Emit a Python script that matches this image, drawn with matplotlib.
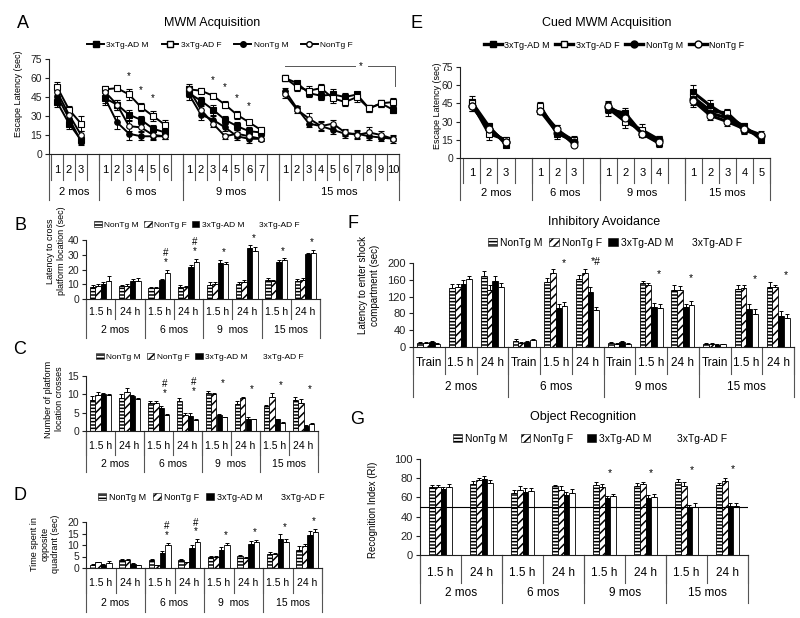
import numpy as np
import matplotlib
matplotlib.use("Agg")
import matplotlib.pyplot as plt
import matplotlib.transforms as mtransforms
from matplotlib.lines import Line2D
from matplotlib.patches import Patch

plt.rcParams["font.family"] = ["Liberation Sans", "DejaVu Sans"]
plt.rcParams["hatch.linewidth"] = 1.1

W, H = 800, 618

# ---------------- data ----------------
ages = ["2 mos", "6 mos", "9 mos", "15 mos"]
line_names = ["3xTg-AD M", "3xTg-AD F", "NonTg M", "NonTg F"]
bar_names = ["NonTg M", "NonTg F", "3xTg-AD M", "3xTg-AD F"]
delays = ["1.5 h", "24 h"]
ia_phases = ["Train", "1.5 h", "24 h"]

# A: MWM acquisition, escape latency per day
a_3xM = [[41, 24, 11], [44, 39, 31, 27, 20, 17], [48, 42, 35, 27, 22, 18, 17],
         [60, 56, 48, 46, 47, 45, 47, 36, 40, 35]]
a_3xF = [[53, 35, 24], [51, 52, 47, 37, 30, 23], [51, 50, 46, 39, 31, 25, 19],
         [60, 53, 50, 52, 44, 41, 45, 36, 40, 41]]
a_NM = [[46, 28, 10], [44, 25, 16, 14, 14, 14], [47, 31, 27, 21, 14, 12, 12],
        [50, 36, 24, 22, 19, 16, 16, 14, 13, 12]]
a_NF = [[49, 31, 15], [49, 39, 22, 21, 15, 14], [51, 35, 24, 14, 16, 14, 12],
        [47, 35, 28, 22, 24, 17, 15, 17, 15, 12]]
a_3xM_err = [[4, 4, 3], [4, 4, 4, 3, 3, 3], [3, 3, 4, 3, 3, 3, 2],
             [2, 2, 3, 3, 4, 3, 2, 3, 3, 3]]
a_3xF_err = [[4, 3, 6], [3, 2, 4, 3, 4, 4], [3, 2, 2, 3, 3, 2, 2],
             [2, 3, 4, 3, 4, 3, 4, 3, 3, 3]]
a_NM_err = [[4, 4, 3], [5, 5, 5, 3, 3, 2], [4, 4, 3, 3, 3, 3, 2],
            [2, 2, 3, 3, 3, 3, 3, 3, 3, 3]]
a_NF_err = [[5, 4, 3], [4, 4, 4, 3, 3, 2], [4, 3, 3, 2, 3, 2, 2],
            [3, 3, 4, 4, 3, 3, 3, 4, 3, 2]]
a_star_days = [[], [3, 4, 5], [3, 4, 5, 6], []]

# E: cued MWM acquisition
e_3xM = [[46, 26, 11], [41, 23, 14], [40, 37, 20, 12], [54, 43, 34, 26, 15]]
e_3xF = [[45, 20, 15], [43, 20, 15], [41, 30, 23, 15], [50, 39, 37, 24, 18]]
e_NM = [[43, 24, 13], [39, 21, 13], [42, 35, 20, 15], [49, 37, 33, 23, 18]]
e_NF = [[43, 24, 13], [39, 24, 11], [43, 33, 20, 13], [47, 35, 30, 24, 19]]
e_3xM_err = [[5, 3, 2], [3, 4, 2], [5, 4, 3, 3], [6, 5, 3, 3, 2]]
e_3xF_err = [[4, 5, 2], [3, 4, 3], [4, 5, 5, 3], [5, 4, 3, 3, 3]]
e_NM_err = [[4, 3, 2], [3, 3, 2], [4, 4, 3, 3], [5, 4, 3, 3, 2]]
e_NF_err = [[4, 3, 2], [3, 3, 2], [4, 4, 3, 3], [5, 4, 4, 3, 3]]

# B: latency to cross platform location (sec)
b_NM = [8.0, 8.5, 7.3, 8.0, 9.2, 10.0, 13.0, 12.4]
b_NF = [8.9, 8.9, 7.3, 8.0, 10.3, 11.2, 12.4, 13.0]
b_3xM = [10.0, 11.9, 12.6, 21.7, 24.5, 34.3, 25.2, 30.2]
b_3xF = [11.9, 12.0, 17.6, 25.2, 24.0, 32.8, 26.5, 31.3]
b_NM_err = [1.2, 1.0, 1.0, 1.2, 2.2, 1.5, 1.0, 1.0]
b_NF_err = [1.0, 1.0, 1.0, 1.0, 1.5, 1.5, 0.8, 1.0]
b_3xM_err = [1.5, 1.5, 1.0, 1.5, 2.0, 2.0, 1.0, 1.2]
b_3xF_err = [3.8, 2.0, 2.2, 2.0, 1.0, 2.2, 1.0, 1.8]
b_marks = ["", "", "#\n*", "#\n*", "*", "*", "*", "*"]

# C: number of platform location crosses
c_NM = [8.5, 9.1, 7.7, 8.3, 10.3, 7.5, 6.8, 8.5]
c_NF = [9.7, 10.7, 7.7, 4.5, 10.1, 8.9, 9.4, 7.7]
c_3xM = [10.2, 9.5, 6.2, 4.1, 4.4, 3.2, 3.2, 1.4]
c_3xF = [9.9, 8.7, 4.4, 3.0, 3.7, 3.2, 2.3, 1.9]
c_NM_err = [1.0, 1.0, 0.5, 0.6, 0.7, 0.8, 0.4, 0.8]
c_NF_err = [0.9, 0.9, 0.6, 0.3, 0.4, 0.3, 1.0, 1.0]
c_3xM_err = [0.3, 0.3, 0.7, 0.9, 0.2, 0.5, 0.2, 0.3]
c_3xF_err = [0.2, 0.3, 0.2, 0.2, 0.2, 0.2, 0.2, 0.4]
c_marks = ["", "", "#\n*", "#\n*", "*", "*", "*", "*"]

# D: time spent in opposite quadrant (sec)
d_NM = [1.4, 3.3, 3.6, 3.6, 5.0, 5.3, 6.0, 8.0]
d_NF = [2.4, 3.3, 1.3, 2.4, 4.9, 4.4, 6.0, 9.5]
d_3xM = [1.5, 1.8, 6.4, 8.8, 7.8, 10.4, 12.7, 14.2]
d_3xF = [2.2, 1.2, 10.1, 11.2, 10.1, 11.4, 11.4, 15.5]
d_NM_err = [0.3, 0.6, 0.3, 0.4, 0.4, 0.5, 1.0, 1.6]
d_NF_err = [0.3, 0.4, 0.2, 0.3, 0.4, 0.3, 0.7, 1.0]
d_3xM_err = [0.3, 0.3, 1.0, 1.3, 1.3, 1.4, 1.9, 1.7]
d_3xF_err = [0.8, 0.2, 0.8, 1.3, 0.8, 0.8, 1.1, 1.5]
d_marks = ["", "", "#\n*", "#\n*", "*", "*", "*", "*"]

# F: inhibitory avoidance, latency to enter shock compartment (sec)
f_NM = [9, 140, 170, 15, 155, 163, 10, 152, 136, 8, 139, 143]
f_NF = [9, 143, 135, 10, 177, 176, 7, 147, 135, 8, 141, 143]
f_3xM = [12, 150, 158, 12, 93, 130, 12, 95, 95, 5, 90, 73]
f_3xF = [8, 162, 142, 16, 97, 88, 8, 94, 101, 6, 78, 69]
f_NM_err = [2, 10, 12, 3, 10, 8, 2, 6, 12, 1, 8, 12]
f_NF_err = [2, 8, 12, 2, 8, 10, 2, 6, 10, 1, 6, 5]
f_3xM_err = [2, 10, 10, 2, 10, 12, 2, 10, 8, 1, 12, 12]
f_3xF_err = [2, 8, 10, 2, 10, 8, 1, 8, 8, 1, 12, 10]
f_marks = ["", "", "", "", "*", "*#", "", "*", "*", "", "*", "*"]

# G: object recognition index
g_NM = [70.7, 74.0, 64.5, 71.4, 73.0, 72.0, 76.0, 72.5]
g_NF = [70.7, 77.7, 67.2, 67.2, 70.7, 74.0, 72.0, 76.7]
g_3xM = [69.0, 79.4, 66.0, 62.7, 59.0, 59.0, 48.8, 51.0]
g_3xF = [70.7, 75.0, 66.6, 65.0, 61.0, 60.0, 50.5, 51.0]
g_NM_err = [2, 3, 3, 2, 3, 3, 3, 2]
g_NF_err = [2, 3, 5, 5, 3, 2, 4, 3]
g_3xM_err = [2, 3, 4, 3, 2, 3, 3, 3]
g_3xF_err = [3, 3, 3, 4, 3, 4, 4, 3]
g_marks = ["", "", "", "", "*", "*", "*", "*"]
g_chance = 50

# ---------------- helpers ----------------
fig = plt.figure(figsize=(W / 100, H / 100), dpi=100)


def fy(p):
    return 1 - p / H


def px_axes(left, top, right, bottom):
    ax = fig.add_axes([left / W, fy(bottom), (right - left) / W, (bottom - top) / H])
    for s in ("top", "right"):
        ax.spines[s].set_visible(False)
    for s in ("left", "bottom"):
        ax.spines[s].set_linewidth(0.8)
        ax.spines[s].set_color("#222222")
    ax.set_xticks([])
    ax.tick_params(axis="y", length=3, width=0.8, pad=2, colors="#222222")
    return ax


def category_rows(ax, sub_labels, group_labels, group_sizes, rows, fs1, fs2):
    """Two-level category axis drawn below the plot (pixel rows)."""
    tr = mtransforms.blended_transform_factory(ax.transData, fig.transFigure)
    y0, t1, l1, t2, l2 = rows
    x0, x1 = ax.get_xlim()
    n = len(sub_labels)
    for i, lab in enumerate(sub_labels):
        ax.text(i, fy(t1), lab, transform=tr, ha="center", va="center", fontsize=fs1)
    for b in np.arange(n + 1) - 0.5:
        b = min(max(b, x0), x1)
        ax.plot([b, b], [fy(y0), fy(l1)], transform=tr, color="#555555", lw=0.8,
                clip_on=False)
    edges = np.cumsum([0] + list(group_sizes)) - 0.5
    edges[0] = x0
    edges[-1] = min(edges[-1], x1)
    for k, g in enumerate(group_labels):
        ax.text((edges[k] + edges[k + 1]) / 2, fy(t2), g, transform=tr, ha="center",
                va="center", fontsize=fs2)
    for b in edges:
        ax.plot([b, b], [fy(y0), fy(l2)], transform=tr, color="#555555", lw=0.8,
                clip_on=False)


line_styles = {
    "3xTg-AD M": dict(marker="s", mfc="black"),
    "3xTg-AD F": dict(marker="s", mfc="white"),
    "NonTg M": dict(marker="o", mfc="black"),
    "NonTg F": dict(marker="o", mfc="white"),
}

bar_styles = {
    "NonTg M": dict(fc="white", hatch="-----"),
    "NonTg F": dict(fc="white", hatch="////"),
    "3xTg-AD M": dict(fc="black", hatch=None),
    "3xTg-AD F": dict(fc="white", hatch=None),
}


def slot_positions(sizes):
    pos, start = [], 0
    for k, n in enumerate(sizes):
        pos.append(np.arange(start, start + n))
        start += n + (1 if k < len(sizes) - 1 else 0)
    return pos


def line_panel(ax, series, errors, lw, ms):
    sizes = [len(g) for g in series[0]]
    pos = slot_positions(sizes)
    for name, vals, errs in zip(line_names, series, errors):
        st = line_styles[name]
        for p, v, e in zip(pos, vals, errs):
            ax.errorbar(p, v, yerr=e, color="black", lw=lw, marker=st["marker"], ms=ms,
                        mfc=st["mfc"], mec="black", mew=0.8, capsize=2,
                        elinewidth=0.7, capthick=0.7, zorder=3)
    sub = []
    gsz = []
    for k, n in enumerate(sizes):
        labs = [str(i + 1) for i in range(n)]
        if k < len(sizes) - 1:
            labs.append("")
        sub += labs
        gsz.append(len(labs))
    return pos, sub, gsz


def line_legend(ax, cx, cy, fs, lw, ms, spacing):
    handles = [Line2D([], [], color="black", lw=lw, marker=line_styles[n]["marker"],
                      mfc=line_styles[n]["mfc"], mec="black", ms=ms) for n in line_names]
    ax.legend(handles, line_names, ncol=4, loc="center", bbox_to_anchor=(cx / W, fy(cy)),
              bbox_transform=fig.transFigure, frameon=False, fontsize=fs,
              handlelength=2.0, columnspacing=spacing, handletextpad=0.3)


def bar_panel(ax, values, errors, width, marks, mark_fs, mark_dx, mark_pad):
    n = len(values[0])
    x = np.arange(n)
    tops = np.zeros(n)
    for k, (name, vals, err) in enumerate(zip(bar_names, values, errors)):
        st = bar_styles[name]
        xs = x + (k - 1.5) * width
        ax.bar(xs, vals, width, facecolor=st["fc"], edgecolor="black", hatch=st["hatch"],
               lw=0.6, zorder=2)
        ax.errorbar(xs, vals, yerr=[np.zeros(n), err], fmt="none", ecolor="black",
                    elinewidth=0.7, capsize=1.6, capthick=0.7, zorder=3)
        tops = np.maximum(tops, np.array(vals) + np.array(err))
    ax.set_xlim(-0.5, n - 0.5)
    for i, m in enumerate(marks):
        if m:
            ax.annotate(m, xy=(i + mark_dx * width, tops[i]), xytext=(0, mark_pad),
                        textcoords="offset points", ha="center", va="bottom",
                        fontsize=mark_fs, linespacing=0.85)


def bar_legend(ax, cx, cy, fs, spacing):
    handles = []
    for n in bar_names:
        st = bar_styles[n]
        ec = "white" if n == "3xTg-AD F" else "black"
        handles.append(Patch(facecolor=st["fc"], edgecolor=ec, hatch=st["hatch"], lw=0.4))
    ax.legend(handles, bar_names, ncol=4, loc="center", bbox_to_anchor=(cx / W, fy(cy)),
              bbox_transform=fig.transFigure, frameon=False, fontsize=fs,
              handlelength=0.9, handleheight=0.8, columnspacing=spacing,
              handletextpad=0.3)


def ylabel(x, y, text, fs):
    fig.text(x / W, fy(y), text, rotation=90, ha="center", va="center", fontsize=fs,
             linespacing=1.15)


def letter(x, y, s):
    fig.text(x / W, fy(y), s, ha="center", va="center", fontsize=13)


def title(x, y, s):
    fig.text(x / W, fy(y), s, ha="center", va="center", fontsize=9)


# ---------------- A ----------------
ax = px_axes(49, 59, 399, 154)
pos, sub, gsz = line_panel(ax, [a_3xM, a_3xF, a_NM, a_NF],
                           [a_3xM_err, a_3xF_err, a_NM_err, a_NF_err], lw=1.4, ms=4)
ax.set_xlim(-0.67, pos[-1][-1] + 0.5)
ax.set_ylim(0, 75)
ax.set_yticks(np.arange(0, 76, 15))
ax.tick_params(axis="y", labelsize=7.5)
category_rows(ax, sub, ages, gsz, (154, 170, 180, 192, 200), 8, 8)
all_a = [a_3xM, a_3xF, a_NM, a_NF]
all_a_err = [a_3xM_err, a_3xF_err, a_NM_err, a_NF_err]
for g, days in enumerate(a_star_days):
    for d in days:
        top = max(s[g][d - 1] + e[g][d - 1] for s, e in zip(all_a, all_a_err))
        ax.annotate("*", xy=(pos[g][d - 1], top), xytext=(0, 6), textcoords="offset points",
                    ha="center", va="bottom", fontsize=7)
# bracket over 15 mos
p15 = pos[3]
yb = 69.5
ax.plot([p15[0], p15[0] + 5.8], [yb, yb], color="#555555", lw=0.7, clip_on=False)
ax.plot([p15[0] + 6.9, p15[-1] + 0.2, p15[-1] + 0.2], [yb, yb, 54], color="#555555",
        lw=0.7, clip_on=False)
ax.text(p15[0] + 6.35, yb, "*", ha="center", va="center", fontsize=7)
line_legend(ax, 220, 45, 6, 1.4, 4, 1.55)
letter(23, 23, "A")
title(212, 23, "MWM Acquisition")
ylabel(19, 94, "Escape Latency (sec)", 6.5)

# ---------------- E ----------------
ax = px_axes(460, 67, 770, 158)
pos, sub, gsz = line_panel(ax, [e_3xM, e_3xF, e_NM, e_NF],
                           [e_3xM_err, e_3xF_err, e_NM_err, e_NF_err], lw=2.2, ms=5)
ax.set_xlim(-0.7, pos[-1][-1] + 0.5)
ax.set_ylim(0, 75)
ax.set_yticks(np.arange(0, 76, 15))
ax.tick_params(axis="y", labelsize=7.5)
category_rows(ax, sub, ages, gsz, (158, 173, 183, 193, 200), 8, 8)
line_legend(ax, 614, 45, 6.5, 2.4, 5, 0.6)
letter(417, 23, "E")
title(607, 23, "Cued MWM Acquisition")
ylabel(437, 106, "Escape Latency (sec)", 6.5)

sub8 = delays * 4

# ---------------- B ----------------
ax = px_axes(86, 240, 320, 299)
bar_panel(ax, [b_NM, b_NF, b_3xM, b_3xF], [b_NM_err, b_NF_err, b_3xM_err, b_3xF_err],
          0.185, b_marks, 7, 1.2, 2)
ax.set_ylim(0, 40)
ax.set_yticks(np.arange(0, 41, 10))
ax.tick_params(axis="y", labelsize=7.5)
category_rows(ax, sub8, ["2 mos", "6 mos", "9  mos", "15 mos"], [2, 2, 2, 2],
              (299, 312, 319, 330, 338), 7.5, 7.5)
bar_legend(ax, 197, 225, 6, 0.6)
letter(20, 225, "B")
ylabel(56, 251, "Latency to cross\nplatform location (sec)", 6.5)

# ---------------- C ----------------
ax = px_axes(86, 376, 318, 431)
bar_panel(ax, [c_NM, c_NF, c_3xM, c_3xF], [c_NM_err, c_NF_err, c_3xM_err, c_3xF_err],
          0.185, c_marks, 7, 1.2, 2)
ax.set_ylim(0, 15)
ax.set_yticks(np.arange(0, 16, 5))
ax.tick_params(axis="y", labelsize=7.5)
category_rows(ax, sub8, ["2 mos", "6 mos", "9  mos", "15 mos"], [2, 2, 2, 2],
              (431, 446, 455, 464, 472), 7.5, 7.5)
bar_legend(ax, 200, 357, 6, 0.7)
letter(20, 350, "C")
ylabel(54, 399, "Number of platform\nlocation crosses", 6.5)

# ---------------- D ----------------
ax = px_axes(86, 522, 322, 568)
bar_panel(ax, [d_NM, d_NF, d_3xM, d_3xF], [d_NM_err, d_NF_err, d_3xM_err, d_3xF_err],
          0.185, d_marks, 7, 1.2, 2)
ax.set_ylim(0, 20)
ax.set_yticks(np.arange(0, 21, 5))
ax.tick_params(axis="y", labelsize=7.5)
category_rows(ax, sub8, ["2 mos", "6 mos", "9  mos", "15 mos"], [2, 2, 2, 2],
              (568, 583, 593, 603, 612), 7.5, 7.5)
bar_legend(ax, 211, 497, 6.5, 0.8)
letter(20, 495, "D")
ylabel(45, 544, "Time spent in\nopposite\nquadrant (sec)", 6.5)

# ---------------- F ----------------
ax = px_axes(413, 263, 794, 347)
bar_panel(ax, [f_NM, f_NF, f_3xM, f_3xF], [f_NM_err, f_NF_err, f_3xM_err, f_3xF_err],
          0.18, f_marks, 7.5, 1.4, 1)
ax.set_ylim(0, 200)
ax.set_yticks(np.arange(0, 201, 40))
ax.tick_params(axis="y", labelsize=8)
category_rows(ax, ia_phases * 4, ages, [3, 3, 3, 3], (347, 363, 374, 387, 397), 8.5, 8.5)
bar_legend(ax, 615, 243, 7.5, 0.6)
letter(353, 223, "F")
title(604, 222, "Inhibitory Avoidance")
ylabel(369, 285, "Latency to enter shock\ncompartment (sec)", 7)

# ---------------- G ----------------
ax = px_axes(420, 459, 748, 555)
bar_panel(ax, [g_NM, g_NF, g_3xM, g_3xF], [g_NM_err, g_NF_err, g_3xM_err, g_3xF_err],
          0.14, g_marks, 7.5, 1.0, 3)
ax.axhline(g_chance, color="black", lw=0.8, zorder=4)
ax.set_ylim(0, 100)
ax.set_yticks(np.arange(0, 101, 20))
ax.tick_params(axis="y", labelsize=8)
category_rows(ax, sub8, ages, [2, 2, 2, 2], (555, 573, 583, 593, 603), 8.5, 8.5)
bar_legend(ax, 590, 439, 7.5, 1.25)
letter(357, 420, "G")
title(583, 417, "Object Recognition")
ylabel(373, 510, "Recognition Index (RI)", 7)

fig.savefig("out.png", dpi=100)
